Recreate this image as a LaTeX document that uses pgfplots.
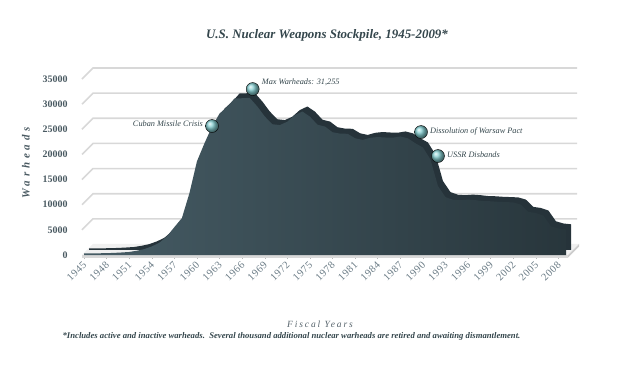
\documentclass[border=0pt]{standalone}
\usepackage{pgfplots}
\usepackage{pgfplotstable}
\pgfplotsset{compat=1.18}
\usepackage{fontspec}
\setmainfont{Liberation Serif}
\newfontfamily\wideA[LetterSpace=35]{Liberation Serif}
\newfontfamily\wideB[LetterSpace=20]{Liberation Serif}
\newfontfamily\wideC[LetterSpace=6]{Liberation Serif}
\definecolor{areaL}{HTML}{465C65}
\definecolor{areaR}{HTML}{28363C}
\definecolor{band}{HTML}{26333A}
\definecolor{txt}{HTML}{34464C}
\definecolor{ytxt}{HTML}{4A5A62}
\definecolor{xtxt}{HTML}{6B7C86}
\definecolor{gridc}{HTML}{D8D8D8}
\definecolor{ballc}{HTML}{86CFD2}

\pgfplotstableread{
year n
1945 300
1946 320
1947 340
1948 370
1949 420
1950 500
1951 600
1952 841
1953 1169
1954 1703
1955 2422
1956 3692
1957 5543
1958 7345
1959 12298
1960 18638
1961 22229
1962 25540
1963 28133
1964 29463
1965 31139
1966 31175
1967 31255
1968 29561
1969 27552
1970 26008
1971 25830
1972 26516
1973 27835
1974 28537
1975 27519
1976 25914
1977 25542
1978 24418
1979 24138
1980 24104
1981 23208
1982 22886
1983 23305
1984 23459
1985 23368
1986 23317
1987 23575
1988 23205
1989 22217
1990 21392
1991 19008
1992 13708
1993 11511
1994 10979
1995 10904
1996 11011
1997 10903
1998 10732
1999 10685
2000 10577
2001 10526
2002 10457
2003 10027
2004 8570
2005 8360
2006 7853
2007 5709
2008 5273
2009 5113
}\stock

\begin{document}
\begin{tikzpicture}
\useasboundingbox (-84bp,-111bp) rectangle (536bp,255bp);
\begin{axis}[
  at={(0,0)}, anchor=south west, scale only axis,
  width=482bp, height=176bp,
  xmin=1945, xmax=2009, ymin=0, ymax=35000,
  clip=false,
  axis line style={draw=none},
  tick pos=left,
  xtick={1945,1948,...,2008},
  minor x tick num=2,
  ytick={0,5000,10000,15000,20000,25000,30000,35000},
  ytick style={draw=none},
  xtick style={draw=gray!55, line width=0.5bp},
  minor tick style={draw=gray!55, line width=0.5bp},
  tick align=outside,
  major tick length=4bp, minor tick length=4bp,
  /pgf/number format/1000 sep={},
  /pgf/number format/assume math mode=true,
  scaled y ticks=false,
  x tick label style={rotate=45, anchor=east, yshift=-3.5bp, xshift=1bp,
    font=\wideC\fontsize{10.5}{11}\selectfont, text=xtxt},
  y tick label style={anchor=east, xshift=-9bp,
    font=\bfseries\fontsize{10}{11}\selectfont, text=ytxt},
]
% back wall gridlines
\pgfplotsinvokeforeach{5000,10000,15000,20000,25000,30000,35000}{
  \draw[gridc, line width=1.6bp] ([xshift=-2bp]axis cs:1945,#1) -- ([xshift=9bp,yshift=11bp]axis cs:1945,#1) -- ([xshift=11bp,yshift=11bp]axis cs:2009,#1);
}
% floor
\fill[gray!12] ([xshift=-2bp]axis cs:1945,0) -- ([xshift=2bp]axis cs:2009,0) -- ([xshift=13bp,yshift=11bp]axis cs:2009,0) -- ([xshift=9bp,yshift=11bp]axis cs:1945,0) -- cycle;
\fill[gray!30] ([xshift=-2bp,yshift=-2.5bp]axis cs:1945,0) rectangle ([xshift=2bp]axis cs:2009,0);
\fill[gray!40] ([xshift=2bp,yshift=-2.5bp]axis cs:2009,0) -- ([xshift=2bp]axis cs:2009,0) -- ([xshift=13bp,yshift=11bp]axis cs:2009,0) -- ([xshift=13bp,yshift=8.5bp]axis cs:2009,0) -- cycle;
% area: depth band then front face
\addplot[fill=band, draw=none, xshift=5bp, yshift=5bp] table[x=year,y=n]{\stock} \closedcycle;
\addplot[draw=none, left color=areaL, right color=areaR] table[x=year,y=n]{\stock} \closedcycle;
% event markers
\addplot[only marks, mark=ball, mark size=6.5bp, ball color=ballc, mark options={ball color=ballc}]
  coordinates {(1962,25650) (1967.4,33000) (1989.75,24450) (1992,19680)};
\node[anchor=east, font=\itshape\fontsize{8.3}{9}\selectfont, text=txt, inner sep=0pt] at ([xshift=-9bp,yshift=2bp]axis cs:1962,25650) {Cuban Missile Crisis};
\node[anchor=west, font=\itshape\fontsize{8.3}{9}\selectfont, text=txt, inner sep=0pt] at ([xshift=9bp,yshift=7bp]axis cs:1967.4,33000) {Max Warheads: 31,255};
\node[anchor=west, font=\itshape\fontsize{8.3}{9}\selectfont, text=txt, inner sep=0pt] at ([xshift=9bp,yshift=1bp]axis cs:1989.75,24450) {Dissolution of Warsaw Pact};
\node[anchor=west, font=\itshape\fontsize{8.3}{9}\selectfont, text=txt, inner sep=0pt] at ([xshift=9bp,yshift=1bp]axis cs:1992,19680) {USSR Disbands};
\end{axis}
\node[font=\bfseries\itshape\fontsize{13}{15}\selectfont, text=txt] at (243bp,220bp) {U.S. Nuclear Weapons Stockpile, 1945-2009*};
\node[rotate=90, font=\wideA\bfseries\itshape\fontsize{11}{13}\selectfont, text=ytxt] at (-58bp,92bp) {Warheads};
\node[font=\wideB\itshape\fontsize{9.5}{11}\selectfont, text=xtxt!80!black] at (236bp,-69bp) {Fiscal Years};
\node[font=\bfseries\itshape\fontsize{8.7}{10}\selectfont, text=txt] at (207.5bp,-81bp) {*Includes active and inactive warheads.\ \ Several thousand additional nuclear warheads are retired and awaiting dismantlement.};
\end{tikzpicture}
\end{document}
